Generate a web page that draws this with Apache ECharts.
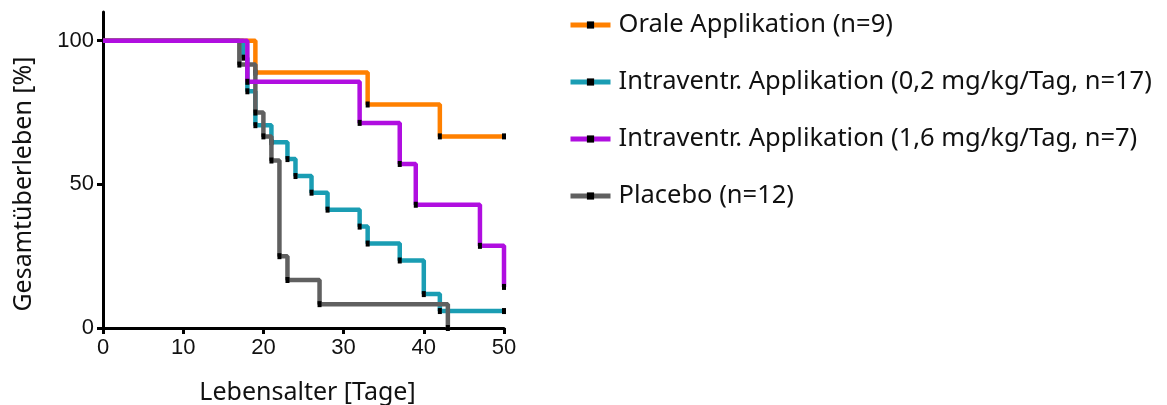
<!DOCTYPE html>
<html>
<head>
	<meta charset="utf-8" />
	<title>Gesamtüberleben</title>
	<script type="text/javascript" src="https://cdn.jsdelivr.net/npm/echarts@6/dist/echarts.min.js"></script>
	<style>
		html, body {margin:0;padding:0;background:#fff;}
		#chart {width:1167px;height:405px;}
	</style>
</head>
<body>
	<div id="chart"></div>

	<script>
		// Kaplan-Meier Daten (Tag, Überleben in %)
		var seriesNames = [
			'Orale Applikation (n=9)',
			'Intraventr. Applikation (0,2 mg/kg/Tag, n=17)',
			'Intraventr. Applikation (1,6 mg/kg/Tag, n=7)',
			'Placebo (n=12)'
		];
		var seriesColors = ['#ff8000', '#1a9db3', '#b00ee0', '#606060'];

		var oralDays  = [0, 19, 33, 42, 50];
		var oralSurv  = [100, 88.9, 77.8, 66.7, 66.7];

		var ivLowDays = [0, 17.5, 18, 19, 21, 23, 24, 26, 28, 32, 33, 37, 40, 42, 50];
		var ivLowSurv = [100, 94.1, 82.4, 70.6, 64.7, 58.8, 52.9, 47.1, 41.2, 35.3, 29.4, 23.5, 11.8, 5.9, 5.9];

		var ivHighDays = [0, 18, 32, 37, 39, 47, 50];
		var ivHighSurv = [100, 85.7, 71.4, 57.1, 42.9, 28.6, 14.3];

		var placeboDays = [0, 17, 19, 20, 21, 22, 23, 27, 43];
		var placeboSurv = [100, 91.7, 75, 66.7, 58.3, 25, 16.7, 8.3, 0];

		var xTicks = [0, 10, 20, 30, 40, 50];
		var yTicks = [0, 50, 100];

		function toData(days, surv) {
			return days.map((d, i) => {
				var item = {value: [d, surv[i]]};
				if (i == 0) item.symbol = 'none';
				return item;
			});
		}

		function makeSeries(idx, days, surv, z) {
			return {
				name: seriesNames[idx],
				type: 'line',
				step: 'end',
				z: z,
				symbol: 'rect',
				symbolSize: [4, 6],
				showAllSymbol: true,
				itemStyle: {color: '#000'},
				lineStyle: {color: seriesColors[idx], width: 4.5},
				emphasis: {disabled: true},
				data: toData(days, surv)
			};
		}

		var chart = echarts.init(document.getElementById('chart'));

		var option = {
			animation: false,
			grid: {left: 103, right: 663, top: 12, bottom: 77, containLabel: false, outerBoundsMode: 'none'},
			legend: {
				orient: 'vertical',
				left: 563,
				top: 7,
				itemWidth: 40,
				itemHeight: 9,
				itemGap: 31,
				data: seriesNames,
				lineStyle: {width: 5},
				textStyle: {fontFamily: 'Noto Sans', fontSize: 25.5, color: '#111', lineHeight: 26, padding: [0, 0, 0, 3]}
			},
			xAxis: {
				type: 'value',
				min: 0,
				max: 50,
				interval: 10,
				name: 'Lebensalter [Tage]',
				nameLocation: 'middle',
				nameGap: 52,
				nameTextStyle: {fontFamily: 'Noto Sans', fontSize: 25, color: '#111', padding: [0, 0, 0, 8]},
				axisLine: {lineStyle: {color: '#000', width: 3}},
				axisTick: {length: 6, lineStyle: {color: '#000', width: 3}, customValues: xTicks},
				axisLabel: {fontFamily: 'Liberation Sans', fontSize: 22, color: '#111', margin: 9, customValues: xTicks},
				splitLine: {show: false}
			},
			yAxis: {
				type: 'value',
				min: 0,
				max: 110,
				interval: 50,
				name: 'Gesamtüberleben [%]',
				nameLocation: 'middle',
				nameGap: 67,
				nameTextStyle: {fontFamily: 'Noto Sans', fontSize: 25, color: '#111', padding: [0, 28, 0, 0]},
				axisLine: {show: true, lineStyle: {color: '#000', width: 3}},
				axisTick: {show: true, length: 6, lineStyle: {color: '#000', width: 3}, customValues: yTicks},
				axisLabel: {fontFamily: 'Liberation Sans', fontSize: 22, color: '#111', margin: 9, customValues: yTicks},
				splitLine: {show: false}
			},
			series: [
				makeSeries(1, ivLowDays, ivLowSurv, 2),
				makeSeries(0, oralDays, oralSurv, 3),
				makeSeries(3, placeboDays, placeboSurv, 4),
				makeSeries(2, ivHighDays, ivHighSurv, 5)
			]
		};

		chart.setOption(option);
	</script>
</body>
</html>
